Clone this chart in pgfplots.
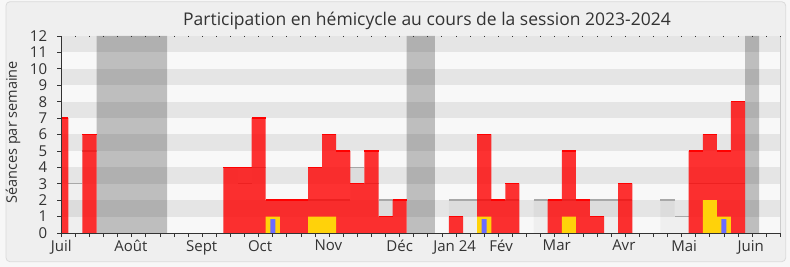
\documentclass[border=0pt]{standalone}
\usepackage{pgfplots}
\usepackage{pgfplotstable}
\pgfplotsset{compat=1.18}
\usepackage{fontspec}
\setmainfont{Open Sans}
\definecolor{outerbg}{HTML}{F7F7F7}
\definecolor{innerbg}{HTML}{EFEFEF}
\definecolor{bordc}{HTML}{DADADA}
\definecolor{lightrow}{HTML}{F8F8F8}
\definecolor{darkrow}{HTML}{E5E5E5}
\definecolor{txt}{HTML}{333333}
\definecolor{axc}{HTML}{333333}
\definecolor{yelc}{HTML}{FFD20A}
\definecolor{bluec}{HTML}{6B6BFF}
\definecolor{medc}{HTML}{A8A8A8}

% w: week index; red: seances du depute; med: mediane; yel: interventions; vac: vacances
\pgfplotstableread{
w red med yel vac
0 7 0 0 0
1 0 3 0 0
2 6 5 0 0
3 0 0 0 12
4 0 0 0 12
5 0 0 0 12
6 0 0 0 12
7 0 0 0 12
8 0 0 0 0
9 0 0 0 0
10 0 0 0 0
11 0 0 0 0
12 4 4 0 0
13 4 3 0 0
14 7 4 0 0
15 2 2 1 0
16 2 2 0 0
17 2 2 0 0
18 4 2 1 0
19 6 2 1 0
20 5 2 0 0
21 3 4 0 0
22 5 3 0 0
23 1 2 0 0
24 2 2 0 0
25 0 0 0 12
26 0 0 0 12
27 0 0 0 0
28 1 2 0 0
29 0 2 0 0
30 6 2 1 0
31 2 2 0 0
32 3 2 0 0
33 0 0 0 0
34 0 2 0 0
35 2 2 0 0
36 5 2 1 0
37 2 2 0 0
38 1 2 0 0
39 0 2 0 0
40 3 2 0 0
41 0 0 0 0
42 0 0 0 0
43 0 2 0 0
44 0 1 0 0
45 5 3 0 0
46 6 3 2 0
47 5 3 1 0
48 8 3 0 0
49 0 0 0 12
50 0 0 0 0
51 0 0 0 0
52 0 0 0 0
}\data

\pgfplotstableread{
w h
15 0.85
30 0.85
47 0.85
}\blue

\begin{document}
\begin{tikzpicture}
\useasboundingbox (0,0) rectangle (790bp,267bp);
\fill[outerbg] (0,0) rectangle (790bp,267bp);
\filldraw[fill=innerbg, draw=bordc, line width=0.8bp, rounded corners=4bp] (6bp,5.3bp) rectangle (785.7bp,265.3bp);

\node[anchor=base, text=txt, font=\fontsize{17.5bp}{20bp}\selectfont] at (427bp,241bp)
  {Participation en hémicycle au cours de la session 2023-2024};

\begin{axis}[
  at={(61.3bp,34bp)}, anchor=south west,
  scale only axis, width=719bp, height=197bp,
  xmin=0, xmax=51, ymin=0, ymax=12,
  axis on top=true,
  clip mode=individual,
  clip marker paths=true,
  axis x line*=bottom, axis y line*=left,
  axis line style={draw=axc, line width=1bp},
  ytick={0,...,12},
  tick align=outside,
  major tick length=4bp,
  minor tick length=4bp,
  y tick style={draw=axc, line width=0.8bp},
  major x tick style={draw=none},
  minor x tick style={draw=axc, line width=0.8bp},
  xtick={0,4.93,9.96,14.1,18.94,24.0,27.9,31.2,35.14,39.9,44.18,48.9},
  xticklabels={Juil,Août,Sept,Oct,Nov,Déc,Jan 24,Fév,Mar,Avr,Mai,Juin},
  minor xtick={0,...,51},
  /pgf/number format/assume math mode=true,
  ticklabel style={text=txt, font=\fontsize{15bp}{17bp}\selectfont},
  yticklabel style={inner xsep=0pt, xshift=-10bp},
  xticklabel style={inner ysep=0pt, yshift=-3bp},
  ylabel={Séances par semaine},
  every axis y label/.style={at={(axis description cs:-0.0672,0.511)}, rotate=90, anchor=center,
     text=txt, font=\fontsize{14.5bp}{17bp}\selectfont},
]
% background stripes
\fill[lightrow] (axis cs:0,0) rectangle (axis cs:51,12);
\fill[darkrow] (axis cs:0,1) rectangle (axis cs:51,2);
\fill[darkrow] (axis cs:0,3) rectangle (axis cs:51,4);
\fill[darkrow] (axis cs:0,5) rectangle (axis cs:51,6);
\fill[darkrow] (axis cs:0,7) rectangle (axis cs:51,8);
\fill[darkrow] (axis cs:0,9) rectangle (axis cs:51,10);
\fill[darkrow] (axis cs:0,11) rectangle (axis cs:51,12);
% vacation bands
\addplot[const plot mark left, draw=none, fill=black, fill opacity=0.23]
  table[x expr=\thisrow{w}-0.5, y=vac]{\data} \closedcycle;
% median
\addplot[const plot mark left, draw=none, fill=black, fill opacity=0.035]
  table[x expr=\thisrow{w}-0.5, y=med]{\data} \closedcycle;
\addplot[only marks, mark=-, mark size=7.05bp, mark options={draw=medc, line width=1.5bp},
  restrict y to domain=0.5:20] table[x=w, y=med]{\data};
% red presence
\addplot[const plot mark left, draw=none, fill=red, fill opacity=0.8]
  table[x expr=\thisrow{w}-0.5, y=red]{\data} \closedcycle;
\addplot[only marks, mark=-, mark size=7.05bp, mark options={draw=red, line width=1.5bp},
  restrict y to domain=0.5:20] table[x=w, y=red]{\data};
% yellow
\addplot[const plot mark left, draw=none, fill=yelc]
  table[x expr=\thisrow{w}-0.5, y=yel]{\data} \closedcycle;
% blue
\addplot[ybar, bar width=0.355, bar shift=0pt, fill=bluec, draw=none]
  table[x=w, y=h]{\blue};
\draw[draw=black!20, line width=1bp] (rel axis cs:1,0) -- (rel axis cs:1,1);
\end{axis}

\begin{axis}[
  at={(61.3bp,34bp)}, anchor=south west,
  scale only axis, width=719bp, height=197bp,
  xmin=0, xmax=51, ymin=0, ymax=12,
  axis x line*=top, hide y axis,
  x axis line style={draw=none},
  xtick={0,...,51}, xticklabels={},
  tick align=inside, major tick length=1.5bp,
  x tick style={draw=black!80, line width=1bp},
]
\end{axis}
\end{tikzpicture}
\end{document}
